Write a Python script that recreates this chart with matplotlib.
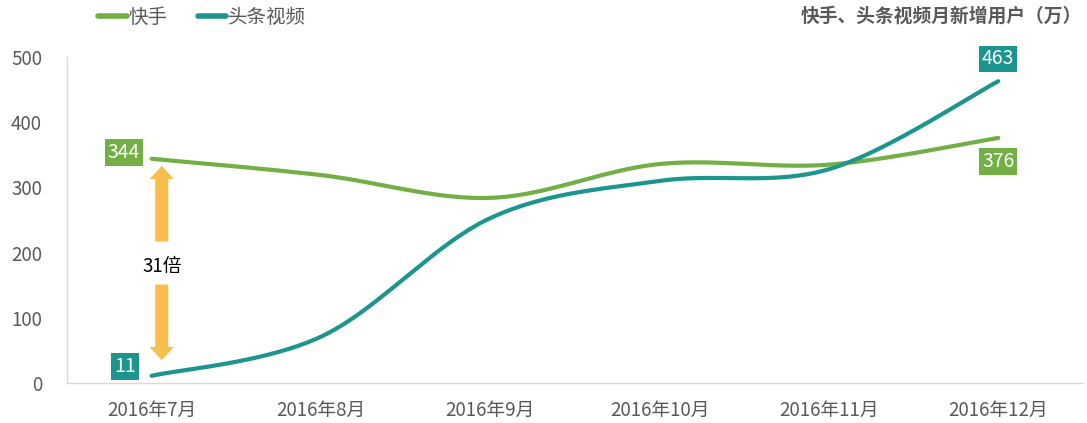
import numpy as np
import matplotlib
matplotlib.use("Agg")
import matplotlib.pyplot as plt

plt.rcParams['font.family'] = ['Noto Sans CJK SC', 'DejaVu Sans']

months = ["2016年7月", "2016年8月", "2016年9月", "2016年10月", "2016年11月", "2016年12月"]
kuaishou = [344, 319, 284, 336, 335, 376]
toutiao = [11, 71, 253, 310, 328, 463]
series_names = ["快手", "头条视频"]
title = "快手、头条视频月新增用户（万）"
ratio_text = "31倍"

GREEN = "#72AF44"
TEAL = "#1C958F"
ORANGE = "#F8BE4B"
GRAY = "#595959"


def smooth(xs, ys, n=40):
    """Excel-like smoothed line via cubic Bezier segments (Catmull-Rom style)."""
    xs = np.asarray(xs, float)
    ys = np.asarray(ys, float)
    px = np.concatenate([[xs[0]], xs, [xs[-1]]])
    py = np.concatenate([[ys[0]], ys, [ys[-1]]])
    outx, outy = [], []
    t = np.linspace(0, 1, n)
    for i in range(len(xs) - 1):
        p0 = np.array([px[i + 1], py[i + 1]])
        p3 = np.array([px[i + 2], py[i + 2]])
        c1 = p0 + (np.array([px[i + 2], py[i + 2]]) - np.array([px[i], py[i]])) / 6
        c2 = p3 - (np.array([px[i + 3], py[i + 3]]) - np.array([px[i + 1], py[i + 1]])) / 6
        b = ((1 - t) ** 3)[:, None] * p0 + (3 * (1 - t) ** 2 * t)[:, None] * c1 + \
            (3 * (1 - t) * t ** 2)[:, None] * c2 + (t ** 3)[:, None] * p3
        outx.extend(b[:, 0])
        outy.extend(b[:, 1])
    return np.array(outx), np.array(outy)


fig = plt.figure(figsize=(10.87, 4.23), dpi=100)
ax = fig.add_axes([0.0616, 0.0946, 0.9347, 0.7704])

x = np.arange(len(months))
sx, sy = smooth(x, kuaishou)
ax.plot(sx, sy, color=GREEN, lw=3, solid_capstyle='round', label=series_names[0])
tx, ty = smooth(x, toutiao)
ax.plot(tx, ty, color=TEAL, lw=3, solid_capstyle='round', label=series_names[1])

ax.set_xlim(-0.5, len(months) - 0.5)
ax.set_ylim(0, 500)
ax.set_yticks([0, 100, 200, 300, 400, 500])
ax.set_xticks(x)
ax.set_xticklabels(months)
ax.tick_params(axis='both', length=0, labelsize=13.5, colors=GRAY)
ax.tick_params(axis='x', pad=12)
ax.tick_params(axis='y', pad=18)
for s in ['top', 'right']:
    ax.spines[s].set_visible(False)
for s in ['left', 'bottom']:
    ax.spines[s].set_color('#D9D9D9')
    ax.spines[s].set_linewidth(1)

# data labels
def box_label(xv, yv, text, color, dx, dy):
    ax.annotate(text, (xv, yv), xytext=(dx, dy), textcoords='offset points',
                ha='center', va='center', color='white', fontsize=14,
                bbox=dict(boxstyle='square,pad=0.15', fc=color, ec='none'))

box_label(x[0], kuaishou[0], str(kuaishou[0]), GREEN, -20, 4.5)
box_label(x[0], toutiao[0], str(toutiao[0]), TEAL, -19, 7)
box_label(x[-1], toutiao[-1], str(toutiao[-1]), TEAL, 0, 16)
box_label(x[-1], kuaishou[-1], str(kuaishou[-1]), GREEN, 0, -17)

# ratio arrows
ax_x = 0.06
astyle = 'simple,head_length=9.5,head_width=17.5,tail_width=9.4'
ax.annotate('', xy=(ax_x, 333), xytext=(ax_x, 217),
            arrowprops=dict(arrowstyle=astyle, mutation_scale=1, fc=ORANGE, ec='none',
                            shrinkA=0, shrinkB=0))
ax.annotate('', xy=(ax_x, 35), xytext=(ax_x, 151),
            arrowprops=dict(arrowstyle=astyle, mutation_scale=1, fc=ORANGE, ec='none',
                            shrinkA=0, shrinkB=0))
ax.text(ax_x, 178, ratio_text, ha='center', va='center', fontsize=13.5, color='black')

# legend
leg = fig.legend(loc='upper left', bbox_to_anchor=(0.0745, 1.025), ncol=2, frameon=False,
                 fontsize=14, handlelength=1.45, columnspacing=1.55, handletextpad=0.1)
for t in leg.get_texts():
    t.set_color(GRAY)
for l in leg.get_lines():
    l.set_linewidth(4)

fig.text(0.995, 0.962, title, ha='right', va='center', fontsize=13.5, fontweight='bold', color=GRAY)

fig.savefig('out.png', dpi=100)
